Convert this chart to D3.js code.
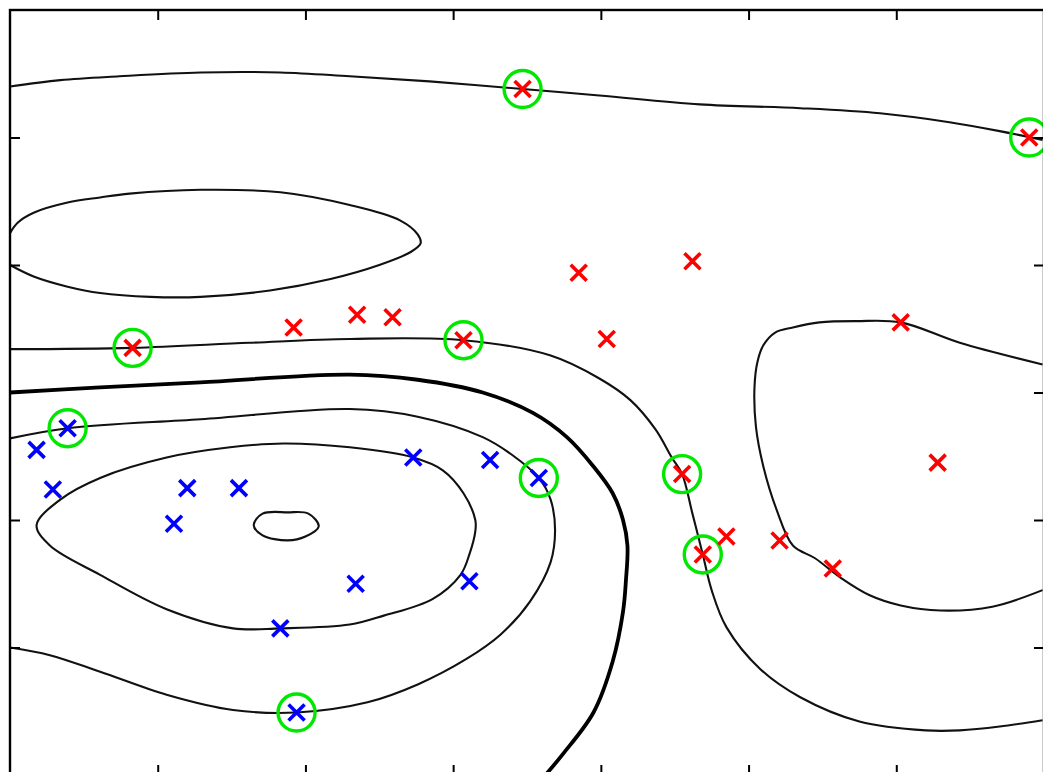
<!DOCTYPE html>
<html><head><meta charset="utf-8">
<script src="https://cdn.jsdelivr.net/npm/d3@7"></script>
<style>html,body{margin:0;padding:0;background:#fff;} svg{display:block}</style>
</head><body>
<svg id="chart" width="1043" height="772"></svg>
<script>
// ---- axis ticks (no labels in the cropped figure) ----
const xTicks = [1, 2, 3, 4, 5, 6];
const yTicks = [1, 2, 3, 4, 5];

// ---- positive class (red) ----
const redX  = [3.47, 6.90, 3.85, 4.62, 1.92, 2.35, 2.59, 0.83, 3.07, 4.04, 6.03, 6.28, 4.55, 4.69, 4.85, 5.21, 5.57];
const redY  = [5.38, 5.00, 3.94, 4.03, 3.51, 3.61, 3.59, 3.35, 3.41, 3.42, 3.55, 2.45, 2.36, 1.73, 1.87, 1.84, 1.62];
const redSV = [1, 1, 0, 0, 0, 0, 0, 1, 1, 0, 0, 0, 1, 1, 0, 0, 0];

// ---- negative class (blue) ----
const blueX  = [0.39, 0.18, 0.29, 1.20, 1.55, 1.11, 2.73, 3.25, 3.58, 2.34, 3.11, 1.83, 1.94];
const blueY  = [2.72, 2.55, 2.24, 2.25, 2.25, 1.97, 2.49, 2.47, 2.33, 1.50, 1.52, 1.15, 0.49];
const blueSV = [1, 0, 0, 0, 0, 0, 0, 0, 1, 0, 0, 0, 1];

// ---- contour lines of the decision function ----
const contourTop = [[0,5.40],[0.34,5.45],[0.74,5.48],[1.29,5.51],[1.83,5.51],[2.30,5.48],[2.84,5.44],[3.47,5.38],[3.99,5.33],[4.67,5.26],[5.35,5.23],[5.89,5.19],[6.36,5.12],[6.70,5.05],[6.99,4.98]];
const contourUpperLeft = [[0,4.25],[0.05,4.33],[0.16,4.41],[0.39,4.49],[0.61,4.53],[0.81,4.56],[1.29,4.59],[1.83,4.57],[2.30,4.47],[2.64,4.35],[2.76,4.24],[2.78,4.17],[2.71,4.10],[2.50,4.00],[2.17,3.89],[1.76,3.80],[1.29,3.75],[0.95,3.75],[0.61,3.78],[0.39,3.83],[0.16,3.91],[0,4.00]];
const contourPlus1 = [[0,3.34],[0.83,3.35],[1.62,3.39],[2.30,3.42],[3.07,3.41],[3.66,3.29],[3.99,3.11],[4.20,2.94],[4.37,2.71],[4.48,2.49],[4.55,2.36],[4.62,2.05],[4.69,1.73],[4.75,1.45],[4.85,1.16],[5.08,0.83],[5.35,0.61],[5.75,0.42],[6.20,0.35],[6.43,0.35],[6.70,0.38],[6.99,0.43]];
const contourZero = [[0,3.00],[0.61,3.04],[1.29,3.08],[2.30,3.14],[2.76,3.10],[3.20,3.00],[3.54,2.84],[3.77,2.65],[3.95,2.42],[4.08,2.21],[4.15,2.00],[4.18,1.80],[4.17,1.53],[4.15,1.28],[4.08,0.89],[3.95,0.49],[3.74,0.16],[3.61,-0.02]];
const contourMinus1 = [[0,2.64],[0.39,2.72],[1.29,2.79],[2.30,2.87],[2.76,2.81],[3.20,2.65],[3.40,2.51],[3.58,2.33],[3.66,2.16],[3.69,1.92],[3.66,1.67],[3.52,1.36],[3.32,1.10],[3.09,0.91],[2.76,0.71],[2.42,0.57],[1.94,0.49],[1.51,0.51],[1.06,0.63],[0.61,0.81],[0.27,0.94],[0,1.00]];
const contourMinus2 = [[0.18,1.96],[0.34,2.16],[0.61,2.33],[1.06,2.49],[1.49,2.57],[1.85,2.60],[2.30,2.57],[2.73,2.49],[2.93,2.39],[3.07,2.21],[3.15,2.00],[3.15,1.91],[3.11,1.73],[3.05,1.57],[2.86,1.38],[2.53,1.25],[2.30,1.18],[1.83,1.15],[1.51,1.15],[1.06,1.30],[0.61,1.57],[0.27,1.80]];
const contourMinus3 = [[1.65,1.96],[1.71,2.05],[1.88,2.06],[2.02,2.05],[2.09,1.95],[2.00,1.87],[1.88,1.84],[1.71,1.88]];
const contourRight = [[6.99,3.22],[6.43,3.39],[6.03,3.55],[5.73,3.56],[5.48,3.55],[5.30,3.51],[5.18,3.47],[5.10,3.37],[5.06,3.24],[5.04,3.04],[5.05,2.73],[5.10,2.42],[5.19,2.08],[5.30,1.80],[5.45,1.70],[5.62,1.55],[5.82,1.41],[6.03,1.33],[6.30,1.29],[6.65,1.32],[6.99,1.45]];

const openContours   = [contourTop, contourUpperLeft, contourPlus1, contourMinus1, contourRight];
const closedContours = [contourMinus2, contourMinus3];
const boundary       = [contourZero];

// ---- drawing ----
const svg = d3.select("#chart");
const x = d3.scaleLinear().domain([0, 7]).range([10, 1044]);
const y = d3.scaleLinear().domain([0, 6]).range([775, 10]);

svg.append("defs").append("clipPath").attr("id", "plotclip")
  .append("rect").attr("x", x(0)).attr("y", y(6))
  .attr("width", x(7) - x(0)).attr("height", y(0) - y(6));

const plot = svg.append("g").attr("clip-path", "url(#plotclip)");

const lineOpen = d3.line().x(d => x(d[0])).y(d => y(d[1])).curve(d3.curveCatmullRom.alpha(0.5));
const lineClosed = d3.line().x(d => x(d[0])).y(d => y(d[1])).curve(d3.curveCatmullRomClosed.alpha(0.5));

plot.selectAll("path.open").data(openContours).join("path")
  .attr("class", "open").attr("d", lineOpen)
  .attr("fill", "none").attr("stroke", "#111").attr("stroke-width", 2.1);
plot.selectAll("path.closed").data(closedContours).join("path")
  .attr("class", "closed").attr("d", lineClosed)
  .attr("fill", "none").attr("stroke", "#111").attr("stroke-width", 2.1);
plot.selectAll("path.boundary").data(boundary).join("path")
  .attr("class", "boundary").attr("d", lineOpen)
  .attr("fill", "none").attr("stroke", "#000").attr("stroke-width", 3.8);

const red  = redX.map((v, i) => ({x: v, y: redY[i], sv: redSV[i]}));
const blue = blueX.map((v, i) => ({x: v, y: blueY[i], sv: blueSV[i]}));
const sv = red.concat(blue).filter(d => d.sv);

const crossPath = "M-8,-8L8,8M-8,8L8,-8";

plot.selectAll("circle.sv").data(sv).join("circle")
  .attr("class", "sv").attr("cx", d => x(d.x)).attr("cy", d => y(d.y)).attr("r", 18.5)
  .attr("fill", "none").attr("stroke", "#00e800").attr("stroke-width", 3.4);

plot.selectAll("path.red").data(red).join("path")
  .attr("class", "red").attr("d", crossPath)
  .attr("transform", d => `translate(${x(d.x)},${y(d.y)})`)
  .attr("stroke", "#ff0000").attr("stroke-width", 3.6).attr("fill", "none");
plot.selectAll("path.blue").data(blue).join("path")
  .attr("class", "blue").attr("d", crossPath)
  .attr("transform", d => `translate(${x(d.x)},${y(d.y)})`)
  .attr("stroke", "#0000ff").attr("stroke-width", 3.6).attr("fill", "none");

// ---- frame and inward ticks ----
const tickLen = 10;
const axes = svg.append("g");
axes.append("g").attr("transform", `translate(0,${y(6)})`)
  .call(d3.axisTop(x).tickValues(xTicks).tickSize(-tickLen).tickFormat(""));
axes.append("g").attr("transform", `translate(0,${y(0)})`)
  .call(d3.axisBottom(x).tickValues(xTicks).tickSize(-tickLen).tickFormat(""));
axes.append("g").attr("transform", `translate(${x(0)},0)`)
  .call(d3.axisLeft(y).tickValues(yTicks).tickSize(-tickLen).tickFormat(""));
axes.append("g").attr("transform", `translate(${x(7)},0)`)
  .call(d3.axisRight(y).tickValues(yTicks).tickSize(-tickLen).tickFormat(""));
axes.selectAll(".domain").remove();
axes.selectAll(".tick line").attr("stroke", "#000").attr("stroke-width", 2);

svg.append("rect").attr("x", x(0)).attr("y", y(6))
  .attr("width", x(7) - x(0)).attr("height", y(0) - y(6))
  .attr("fill", "none").attr("stroke", "#000").attr("stroke-width", 2.4);
</script>
</body></html>
